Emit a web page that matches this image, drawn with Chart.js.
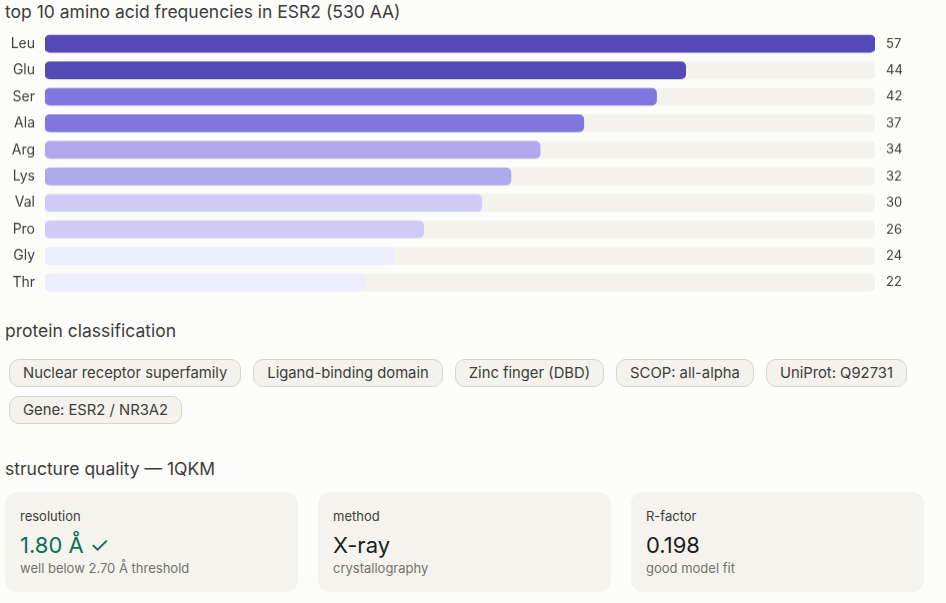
<!DOCTYPE html>
<html>
<head>
<meta charset="utf-8">
<script src="https://cdn.jsdelivr.net/npm/chart.js@4"></script>
<style>
  body { margin: 0; background: #fcfcfa; font-family: "Inter", "Noto Sans", sans-serif; color: #3d3d3a; width: 946px; height: 603px; position: relative; overflow: hidden; }
  .h { position: absolute; left: 5px; font-size: 17.5px; color: #3d3d3a; line-height: 20px; }
  #wrap { position: absolute; left: 5px; top: 12.4px; width: 935px; height: 301.2px; }
  .chips { position: absolute; left: 9px; top: 359px; width: 915px; display: flex; flex-wrap: wrap; gap: 9px 12px; }
  .chip { box-sizing: border-box; height: 28px; line-height: 26px; padding: 0 13px; font-size: 14.8px; border: 1px solid #d6d4cb; background: #f3f2ec; border-radius: 10px; color: #3d3d3a; }
  .cards { position: absolute; left: 5px; top: 492px; display: flex; gap: 20px; }
  .card { box-sizing: border-box; width: 293px; height: 100px; background: #f4f3ee; border-radius: 12px; padding: 16px 15px; }
  .lab { font-size: 13px; color: #3d3d3a; line-height: 16px; }
  .val { font-size: 22px; color: #1f1e1d; line-height: 28px; margin-top: 7px; }
  .sub { font-size: 13px; color: #73726c; line-height: 16px; margin-top: 1px; }
</style>
</head>
<body>
<div class="h" style="top:2px">top 10 amino acid frequencies in ESR2 (530 AA)</div>
<div id="wrap"><canvas id="c"></canvas></div>

<div class="h" style="top:321px">protein classification</div>
<div class="chips" id="chips"></div>

<div class="h" style="top:459px">structure quality — 1QKM</div>
<div class="cards">
  <div class="card"><div class="lab">resolution</div><div class="val" style="color:#0f6e56">1.80 Å ✓</div><div class="sub">well below 2.70 Å threshold</div></div>
  <div class="card"><div class="lab">method</div><div class="val">X-ray</div><div class="sub">crystallography</div></div>
  <div class="card"><div class="lab">R-factor</div><div class="val">0.198</div><div class="sub">good model fit</div></div>
</div>

<script>
// Data
const aminoAcids = ["Leu", "Glu", "Ser", "Ala", "Arg", "Lys", "Val", "Pro", "Gly", "Thr"];
const counts = [57, 44, 42, 37, 34, 32, 30, 26, 24, 22];
const barColors = ["#534ab7", "#534ab7", "#7f77dd", "#7f77dd", "#afa9ec", "#afa9ec", "#cecbf6", "#cecbf6", "#eeedfe", "#eeedfe"];
const maxCount = 57;
const classes = ["Nuclear receptor superfamily", "Ligand-binding domain", "Zinc finger (DBD)", "SCOP: all-alpha", "UniProt: Q92731", "Gene: ESR2 / NR3A2"];

// chips
const chipBox = document.getElementById("chips");
classes.forEach(t => {
  const d = document.createElement("div");
  d.className = "chip";
  d.textContent = t;
  chipBox.appendChild(d);
});

// value labels on the right
const valueLabels = {
  id: "valueLabels",
  afterDatasetsDraw(chart) {
    const ctx = chart.ctx;
    const meta = chart.getDatasetMeta(0);
    ctx.save();
    ctx.font = "13px Inter, 'Noto Sans', sans-serif";
    ctx.fillStyle = "#3d3d3a";
    ctx.textBaseline = "middle";
    meta.data.forEach((bar, i) => {
      ctx.fillText(counts[i], chart.chartArea.right + 11, bar.y);
    });
    ctx.restore();
  }
};

new Chart(document.getElementById("c"), {
  type: "bar",
  data: {
    labels: aminoAcids,
    datasets: [
      { data: counts, backgroundColor: barColors, order: 0, grouped: false,
        barThickness: 17, borderRadius: 5, borderSkipped: false },
      { data: aminoAcids.map(() => maxCount), backgroundColor: "#f3f2ec", order: 1, grouped: false,
        barThickness: 17, borderRadius: 5, borderSkipped: false }
    ]
  },
  options: {
    indexAxis: "y",
    responsive: true,
    maintainAspectRatio: false,
    animation: false,
    layout: { padding: { right: 65 } },
    plugins: { legend: { display: false }, tooltip: { enabled: false } },
    scales: {
      x: { display: false, min: 0, max: maxCount },
      y: {
        grid: { display: false, drawTicks: false }, border: { display: false },
        ticks: { padding: 10, color: "#3d3d3a", font: { size: 14, family: "Inter, 'Noto Sans', sans-serif" } },
        afterFit: s => { s.width = 40; }
      }
    }
  },
  plugins: [valueLabels]
});
</script>
</body>
</html>
